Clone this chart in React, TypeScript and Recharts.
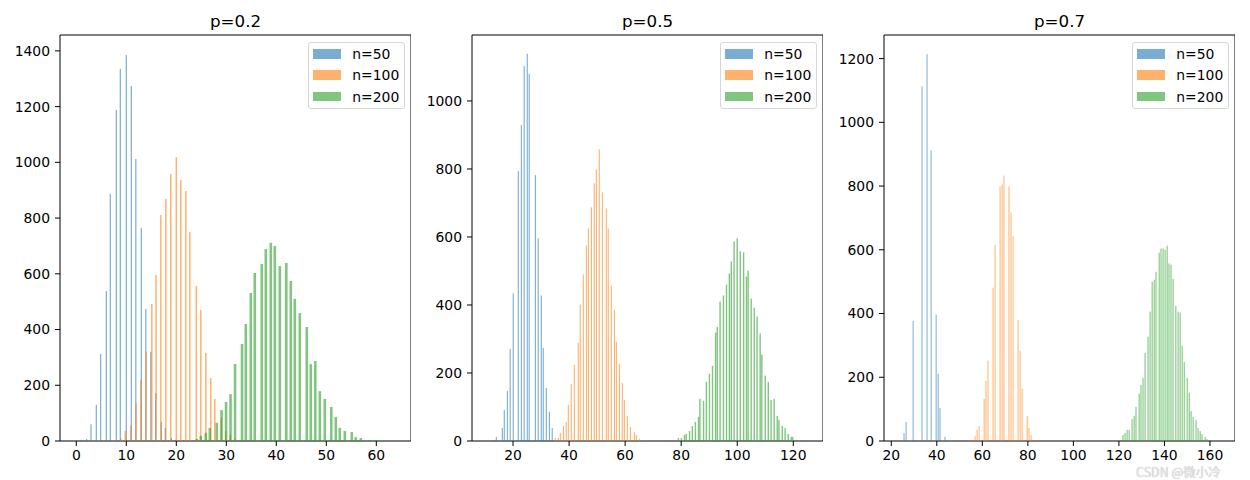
import React from "react";
import { BarChart, Bar, XAxis, YAxis, Legend, ReferenceArea } from "recharts";

const seriesNames = ["n=50", "n=100", "n=200"];
const seriesKeys = ["n50", "n100", "n200"];
const seriesColors = ["#1f77b4", "#ff7f0e", "#2ca02c"];

// p = 0.2
const p02N50X = [1.07, 2.07, 2.94, 4.0, 4.87, 6.0, 6.8, 8.0, 8.8, 10.0, 11.0, 11.9, 13.0, 13.9, 14.9, 15.9, 17.0, 17.8, 19.0, 19.8];
const p02N50Y = [4, 7, 60, 130, 312, 538, 887, 1188, 1335, 1385, 1274, 1012, 765, 474, 320, 172, 68, 47, 11, 4];
const p02N100X = [7.8, 8.9, 9.8, 10.9, 11.95, 12.9, 13.95, 15.1, 15.95, 16.9, 17.9, 18.9, 20.0, 20.9, 21.9, 22.7, 24.0, 24.9, 25.9, 26.9, 27.7, 29.0, 29.9, 30.8, 31.7, 33.1];
const p02N100Y = [4, 10, 36, 56, 136, 219, 321, 492, 596, 811, 869, 958, 1019, 937, 897, 750, 556, 470, 316, 226, 151, 84, 36, 22, 7, 3];
const p02N200X = [24.1, 24.9, 25.9, 26.7, 28.1, 29.05, 29.95, 30.85, 31.75, 33.15, 33.9, 34.9, 35.7, 37.1, 37.9, 38.9, 39.7, 40.7, 42.0, 42.9, 43.7, 44.7, 46.1, 46.9, 47.8, 48.7, 49.7, 51.0, 51.9, 52.7, 53.7, 55.1, 55.9, 56.9, 58.7, 60.0];
const p02N200Y = [7, 18, 29, 47, 65, 111, 140, 168, 276, 348, 420, 531, 603, 635, 689, 711, 700, 628, 639, 574, 510, 459, 409, 276, 287, 179, 151, 122, 86, 47, 36, 32, 14, 11, 4, 4];

// p = 0.5
const p05N50X = [13.0, 14.05, 16.2, 16.9, 18.0, 19.0, 20.1, 21.9, 23.0, 24.0, 25.1, 25.8, 28.0, 29.0, 30.1, 30.8, 31.9, 33.0, 34.0];
const p05N50Y = [3, 12, 38, 91, 147, 271, 434, 794, 929, 1103, 1139, 1080, 782, 596, 428, 274, 156, 86, 38];
const p05N100X = [35.1, 36.2, 36.9, 38.0, 39.0, 39.75, 40.8, 41.9, 43.3, 44.0, 45.1, 46.2, 46.9, 48.0, 49.0, 49.75, 50.8, 51.9, 53.3, 54.0, 55.1, 56.2, 56.9, 58.0, 59.0, 59.75, 60.8, 61.9, 63.3, 64.0, 65.1, 66.2];
const p05N100Y = [9, 9, 24, 44, 56, 106, 168, 224, 289, 401, 490, 575, 625, 687, 758, 799, 858, 731, 684, 625, 457, 386, 292, 227, 171, 121, 74, 41, 27, 18, 6, 3];
const p05N200X = [75.8, 78.0, 79.0, 80.1, 81.2, 81.8, 83.0, 84.0, 85.1, 86.2, 86.7, 88.0, 89.0, 90.1, 91.2, 92.3, 92.9, 93.9, 95.1, 96.2, 97.2, 97.9, 98.9, 100.0, 101.1, 102.3, 103.3, 103.9, 105.0, 106.1, 107.1, 108.2, 108.8, 110.0, 111.1, 112.1, 113.2, 114.3, 114.9, 116.1, 117.1, 118.2, 119.3, 119.8, 120.8, 123.0];
const p05N200Y = [3, 3, 9, 9, 18, 21, 29, 44, 56, 71, 124, 118, 174, 198, 221, 319, 336, 410, 428, 460, 493, 528, 587, 596, 558, 555, 484, 501, 419, 392, 366, 316, 254, 192, 174, 121, 124, 74, 62, 44, 38, 21, 12, 12, 3, 3];

// p = 0.7
const p07N50X = [25.7, 26.6, 29.7, 33.6, 35.8, 37.6, 39.8, 40.7, 41.5, 43.7];
const p07N50Y = [25, 60, 377, 1113, 1214, 912, 396, 211, 104, 13];
const p07N100X = [54.7, 56.9, 57.8, 58.7, 60.9, 61.7, 62.6, 64.8, 65.7, 67.9, 68.8, 69.6, 71.8, 72.7, 73.6, 75.8, 76.7, 77.6, 79.8, 80.6, 81.5, 83.7, 84.6];
const p07N100Y = [3, 16, 35, 47, 132, 189, 252, 481, 616, 799, 805, 833, 799, 717, 642, 380, 283, 164, 79, 41, 19, 3, 3];
const p07N200X = [117.1, 118.9, 121.1, 121.9, 122.8, 123.7, 124.6, 125.9, 126.8, 127.6, 129.0, 129.8, 130.7, 131.6, 132.9, 133.8, 134.7, 135.6, 136.4, 137.8, 138.6, 139.5, 140.4, 141.3, 142.1, 143.0, 143.9, 145.1, 146.1, 147.0, 147.9, 148.8, 150.1, 151.0, 151.8, 152.7, 154.0, 154.9, 155.8, 156.6, 158.0, 158.8, 159.7, 160.6];
const p07N200Y = [3, 3, 3, 19, 25, 35, 35, 69, 79, 107, 148, 176, 198, 277, 327, 406, 500, 506, 531, 591, 604, 604, 600, 613, 557, 553, 509, 424, 406, 403, 299, 248, 198, 151, 94, 75, 66, 41, 31, 22, 13, 6, 3, 3];

const p02XTicks = [0, 10, 20, 30, 40, 50, 60];
const p02YTicks = [0, 200, 400, 600, 800, 1000, 1200, 1400];
const p05XTicks = [20, 40, 60, 80, 100, 120];
const p05YTicks = [0, 200, 400, 600, 800, 1000];
const p07XTicks = [20, 40, 60, 80, 100, 120, 140, 160];
const p07YTicks = [0, 200, 400, 600, 800, 1000, 1200];

// one row per bar, so bars never stack on each other
const buildRows = (xs: number[][], ys: number[][]) => {
  const rows: any[] = [];
  xs.forEach((xArr, s) =>
    xArr.forEach((x, i) => rows.push({ x, [seriesKeys[s]]: ys[s][i] }))
  );
  return rows;
};

const panels = [
  {
    title: "p=0.2",
    left: 0,
    rows: buildRows([p02N50X, p02N100X, p02N200X], [p02N50Y, p02N100Y, p02N200Y]),
    xDomain: [-3.26, 66.94],
    yDomain: [0, 1457],
    xTicks: p02XTicks,
    yTicks: p02YTicks,
    widths: [1.2, 1.5, 2.6],
  },
  {
    title: "p=0.5",
    left: 412,
    rows: buildRows([p05N50X, p05N100X, p05N200X], [p05N50Y, p05N100Y, p05N200Y]),
    xDomain: [5.36, 130.6],
    yDomain: [0, 1194],
    xTicks: p05XTicks,
    yTicks: p05YTicks,
    widths: [1.1, 1.1, 1.4],
  },
  {
    title: "p=0.7",
    left: 824,
    rows: buildRows([p07N50X, p07N100X, p07N200X], [p07N50Y, p07N100Y, p07N200Y]),
    xDomain: [16.8, 171.0],
    yDomain: [0, 1274],
    xTicks: p07XTicks,
    yTicks: p07YTicks,
    widths: [1.0, 1.0, 1.1],
  },
];

const font = "'DejaVu Sans', sans-serif";
const tickStyle = { fontSize: 13.9, fill: "#000", fontFamily: font };

const makeShape = (w: number, color: string) => (props: any) => {
  const { x, y, width, height } = props;
  if (!height || height <= 0 || x == null) return <g />;
  return (
    <rect x={x + width / 2 - w / 2} y={y} width={w} height={height} fill={color} fillOpacity={0.6} />
  );
};

const LegendBox = (props: any) => {
  const items = [...(props.payload || [])].sort(
    (a: any, b: any) => seriesNames.indexOf(a.value) - seriesNames.indexOf(b.value)
  );
  return (
    <div
      style={{
        border: "1px solid #d6d6d6",
        borderRadius: 3,
        background: "rgba(255,255,255,0.8)",
        width: 97,
        height: 67,
        boxSizing: "border-box",
        fontFamily: font,
      }}
    >
      {items.map((it: any) => (
        <div key={it.value} style={{ display: "flex", alignItems: "center", height: 21.3 }}>
          <span style={{ width: 28.3, height: 9.7, marginLeft: 4, background: it.color, opacity: 0.6 }} />
          <span style={{ marginLeft: 11.3, fontSize: 13.9, color: "#000", lineHeight: "14px" }}>{it.value}</span>
        </div>
      ))}
    </div>
  );
};

function Panel({ p }: { p: any }) {
  return (
    <div style={{ position: "absolute", left: p.left, top: 0, width: 411, height: 480 }}>
      <BarChart width={411} height={480} data={p.rows} margin={{ top: 35, right: 0, bottom: 0, left: 0 }}>
        <XAxis
          type="number"
          dataKey="x"
          domain={p.xDomain}
          ticks={p.xTicks}
          allowDataOverflow
          interval={0}
          height={39}
          tickSize={5}
          tickMargin={4}
          axisLine={false}
          tickLine={{ stroke: "#000", strokeWidth: 1 }}
          tick={tickStyle}
        />
        <YAxis
          type="number"
          domain={p.yDomain}
          ticks={p.yTicks}
          allowDataOverflow
          interval={0}
          width={60}
          tickSize={5}
          tickMargin={5}
          axisLine={false}
          tickLine={{ stroke: "#000", strokeWidth: 1 }}
          tick={tickStyle}
        />
        {seriesKeys.map((k, s) => (
          <Bar
            key={k}
            dataKey={k}
            name={seriesNames[s]}
            stackId="s"
            fill={seriesColors[s]}
            isAnimationActive={false}
            shape={makeShape(p.widths[s], seriesColors[s])}
          />
        ))}
        <ReferenceArea
          x1={p.xDomain[0]}
          x2={p.xDomain[1]}
          y1={p.yDomain[0]}
          y2={p.yDomain[1]}
          fill="none"
          fillOpacity={0}
          stroke="#000"
          strokeWidth={1}
          strokeOpacity={1}
          ifOverflow="visible"
        />
        <Legend
          layout="vertical"
          align="center"
          verticalAlign="middle"
          content={LegendBox}
          wrapperStyle={{ left: 307.7, top: 42.3, width: 97, height: 67 }}
        />
      </BarChart>
      <div
        style={{
          position: "absolute",
          left: 60,
          width: 351,
          top: 13,
          textAlign: "center",
          fontSize: 16.7,
          lineHeight: "16.7px",
          fontFamily: font,
          color: "#000",
        }}
      >
        {p.title}
      </div>
    </div>
  );
}

export default function App() {
  return (
    <div style={{ position: "absolute", left: 0, top: 0, width: 1250, height: 480, background: "#fff" }}>
      {panels.map((p) => (
        <Panel key={p.title} p={p} />
      ))}
      <div
        style={{
          position: "absolute",
          left: 1136,
          top: 465,
          fontSize: 12.5,
          lineHeight: "14px",
          fontFamily: "'Noto Sans CJK SC', sans-serif",
          color: "#e4e4e4",
          textShadow: "0 0 1px #b0b0b0",
        }}
      >
        CSDN @微小冷
      </div>
    </div>
  );
}
